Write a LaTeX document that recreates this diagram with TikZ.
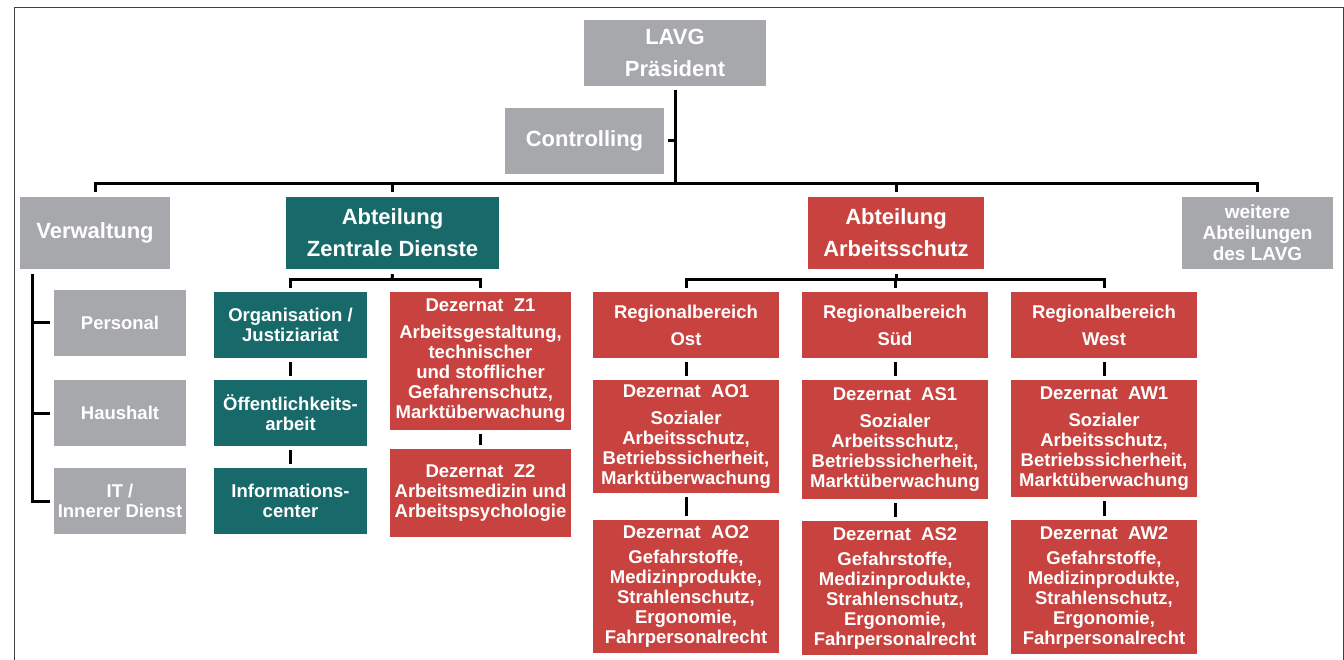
\documentclass[tikz,border=0pt]{standalone}
\usepackage{fontspec}
\setmainfont{Liberation Sans}
\definecolor{lavggrey}{HTML}{A6A8AB}
\definecolor{lavgteal}{HTML}{17696A}
\definecolor{lavgred}{HTML}{C8433F}
\begin{document}
\begin{tikzpicture}[x=1pt, y=-1pt,
    box/.style={align=center, text=white, inner sep=0pt, font=\bfseries\fontsize{18.5}{20}\selectfont},
    bigbox/.style={box, font=\bfseries\fontsize{22}{32}\selectfont},
    sz/.style 2 args={minimum width=#1pt, minimum height=#2pt},
    conn/.style={line width=3pt},
    stack/.style={conn, shorten <=4pt, shorten >=4pt}]
  \useasboundingbox (0,0) rectangle (1344,660);
  \draw[line width=1pt, black!75] (14,660) -- (14,8) -- (1343,8) -- (1343,660);

  \node[bigbox, fill=lavggrey, sz={182}{66}] (lavg) at (675,53) {LAVG\\Präsident};
  \node[bigbox, fill=lavggrey, sz={159}{66}] (contr) at (584.5,141) {Controlling};
  \node[bigbox, fill=lavggrey, sz={150}{72}] (verw) at (95,233) {Verwaltung};
  \node[bigbox, fill=lavgteal, sz={213}{72}] (zd) at (392.5,233) {Abteilung\\Zentrale Dienste};
  \node[bigbox, fill=lavgred, sz={176}{72}] (as) at (896,233) {Abteilung\\Arbeitsschutz};
  \node[box, fill=lavggrey, sz={151}{72}, font=\bfseries\fontsize{19}{21}\selectfont] (weit) at (1257.5,233) {weitere\\Abteilungen\\des LAVG};

  \node[box, fill=lavggrey, sz={132}{66}] (pers) at (120,323) {Personal};
  \node[box, fill=lavggrey, sz={132}{66}] (haus) at (120,413) {Haushalt};
  \node[box, fill=lavggrey, sz={132}{66}] (it) at (120,501) {IT /\\Innerer Dienst};

  \node[box, fill=lavgteal, sz={153}{66}] (org) at (290.5,325) {Organisation /\\Justiziariat};
  \node[box, fill=lavgteal, sz={153}{66}] (oeff) at (290.5,413) {Öffentlichkeits-\\arbeit};
  \node[box, fill=lavgteal, sz={153}{66}] (info) at (290.5,501) {Informations-\\center};
  \node[box, fill=lavgred, sz={181}{138}] (z1) at (480.5,361) {Dezernat\ \ Z1\\[7pt]Arbeitsgestaltung,\\technischer\\und stofflicher\\Gefahrenschutz,\\Marktüberwachung};
  \node[box, fill=lavgred, sz={181}{88}] (z2) at (480.5,493) {Dezernat\ \ Z2\\Arbeitsmedizin und\\Arbeitspsychologie};

  \node[box, fill=lavgred, sz={186}{66}] (ost) at (686,325) {Regionalbereich\\[7pt]Ost};
  \node[box, fill=lavgred, sz={186}{66}] (sued) at (895,325) {Regionalbereich\\[7pt]Süd};
  \node[box, fill=lavgred, sz={186}{66}] (west) at (1104,325) {Regionalbereich\\[7pt]West};
  \node[box, fill=lavgred, sz={186}{113}] (ao1) at (686,436.5) {Dezernat\ \ AO1\\[7pt]Sozialer\\Arbeitsschutz,\\Betriebssicherheit,\\Marktüberwachung};
  \node[box, fill=lavgred, sz={186}{119}] (as1) at (895,439.5) {Dezernat\ \ AS1\\[7pt]Sozialer\\Arbeitsschutz,\\Betriebssicherheit,\\Marktüberwachung};
  \node[box, fill=lavgred, sz={186}{117}] (aw1) at (1104,438.5) {Dezernat\ \ AW1\\[7pt]Sozialer\\Arbeitsschutz,\\Betriebssicherheit,\\Marktüberwachung};
  \node[box, fill=lavgred, sz={186}{133}] (ao2) at (686,586.5) {Dezernat\ \ AO2\\[5pt]Gefahrstoffe,\\Medizinprodukte,\\Strahlenschutz,\\Ergonomie,\\Fahrpersonalrecht};
  \node[box, fill=lavgred, sz={186}{134}] (as2) at (895,588) {Dezernat\ \ AS2\\[5pt]Gefahrstoffe,\\Medizinprodukte,\\Strahlenschutz,\\Ergonomie,\\Fahrpersonalrecht};
  \node[box, fill=lavgred, sz={186}{134}] (aw2) at (1104,587) {Dezernat\ \ AW2\\[5pt]Gefahrstoffe,\\Medizinprodukte,\\Strahlenschutz,\\Ergonomie,\\Fahrpersonalrecht};

  \coordinate (bus) at (675,184);
  \coordinate (zdbus) at (392,280);
  \coordinate (asbus) at (896,280);
  \coordinate (vline) at (32,274);

  \draw[conn] ([yshift=-4pt]lavg.south) -- (bus);
  \draw[conn] ([xshift=4pt]contr.east) -- (contr -| bus);
  \draw[conn] ([yshift=5pt]verw.north) |- (bus) -| ([yshift=5pt]weit.north);
  \foreach \n in {zd,as}
    \draw[conn] ([yshift=5pt]\n.north) -- (\n |- bus);

  \draw[conn] ([yshift=-5pt]zd.south) -- (zdbus);
  \draw[conn] ([yshift=4pt]org.north) |- (zdbus) -| ([yshift=4pt]z1.north);
  \draw[conn] ([yshift=-5pt]as.south) -- (asbus);
  \draw[conn] ([yshift=4pt]ost.north) |- (asbus) -| ([yshift=4pt]west.north);
  \draw[conn] ([yshift=4pt]sued.north) -- (sued |- asbus);

  \draw[conn] (vline) |- ([xshift=-4pt]it.west);
  \foreach \n in {pers,haus}
    \draw[conn] (vline |- \n) -- ([xshift=-4pt]\n.west);

  \foreach \a/\b in {org/oeff, oeff/info, z1/z2, ost/ao1, ao1/ao2, sued/as1, as1/as2, west/aw1, aw1/aw2}
    \draw[stack] (\a.south) -- (\b.north);
\end{tikzpicture}
\end{document}
